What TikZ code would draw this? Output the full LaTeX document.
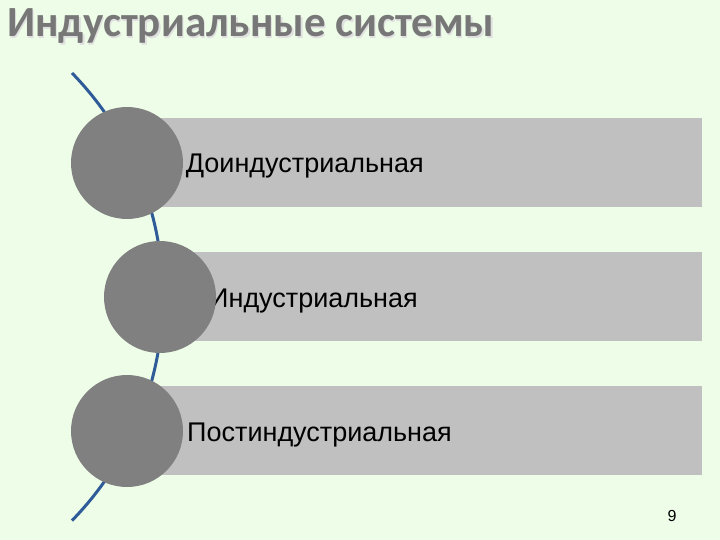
\documentclass[tikz,border=0pt]{standalone}
\usepackage{fontspec}
\setmainfont{Liberation Sans}
\newfontfamily\ttlfont{Carlito}
\definecolor{bg}{HTML}{EEFDE8}
\definecolor{bar}{HTML}{C0C0C0}
\definecolor{circ}{HTML}{808080}
\definecolor{arc}{HTML}{2F5C98}
\definecolor{ttl}{HTML}{777777}
\begin{document}
\begin{tikzpicture}[x=1pt,y=-1pt,
  barbox/.style={fill=bar,draw=none,minimum width=552pt,minimum height=89pt,anchor=north west,inner sep=0},
  disc/.style={circle,fill=circ,draw=none,minimum size=112pt,inner sep=0},
  lbl/.style={font=\fontsize{27}{30}\selectfont,anchor=base east,inner sep=0}]
\fill[bg] (0,0) rectangle (720,540);
\useasboundingbox (0,0) rectangle (720,540);
\node[anchor=base west,font=\ttlfont\fontsize{43}{46}\bfseries\selectfont,text=black!12,inner sep=0] (tsh) at (8.5,38.5) {Индустриальные системы};
\node[anchor=base west,font=\ttlfont\fontsize{43}{46}\bfseries\selectfont,text=ttl,inner sep=0] (title) at (7,37) {Индустриальные системы};
\node[barbox] (b1) at (150,118) {};
\node[barbox] (b2) at (150,252) {};
\node[barbox] (b3) at (150,386) {};
\node[lbl] (t1) at (424,173) {Доиндустриальная};
\node[lbl] (t2) at (418,307) {Индустриальная};
\node[lbl] (t3) at (452,441) {Постиндустриальная};
\draw[arc,line width=3pt] (72,73) arc[start angle=-44.2,end angle=44.2,radius=321];
\node[disc] (c1) at (127,163) {};
\node[disc] (c2) at (160,297) {};
\node[disc] (c3) at (127,431) {};
\node[anchor=base,font=\fontsize{16}{18}\selectfont,inner sep=0] (pg) at (672,521) {9};
\end{tikzpicture}
\end{document}
